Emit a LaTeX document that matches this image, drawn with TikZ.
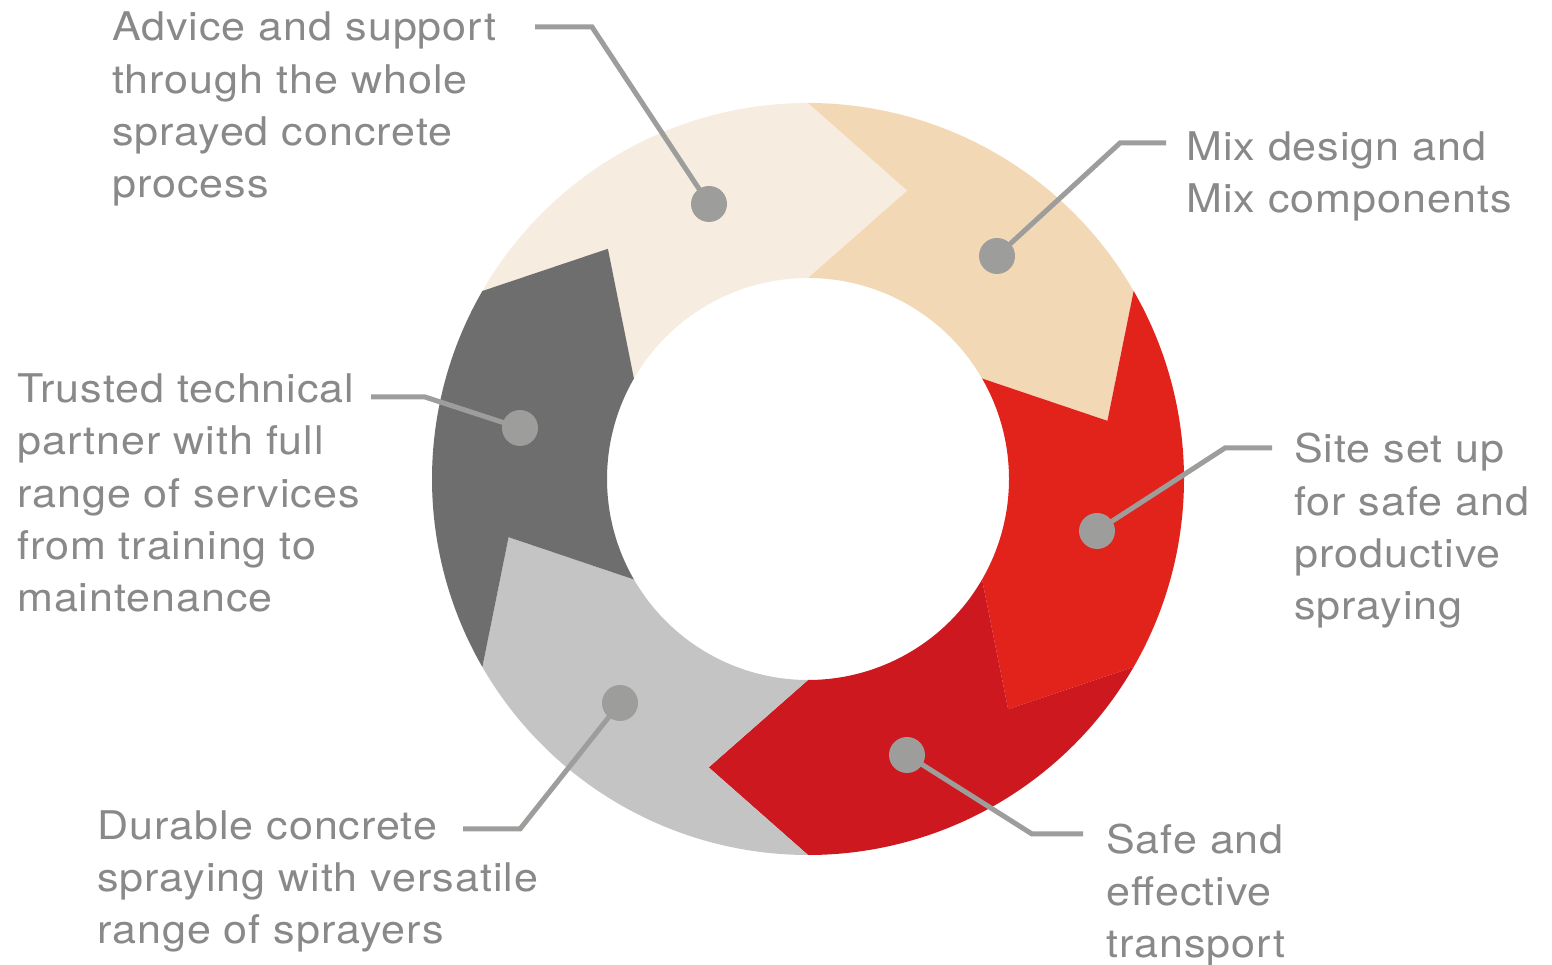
\documentclass[tikz,border=0pt]{standalone}
\usepackage{fontspec}
\setmainfont[FakeStretch=1.09,LetterSpace=2.5]{TeX Gyre Heros}
\definecolor{cream}{HTML}{F7ECE0}
\definecolor{peach}{HTML}{F3D8B6}
\definecolor{redA}{HTML}{E2231B}
\definecolor{redB}{HTML}{CD1820}
\definecolor{lgray}{HTML}{C4C4C4}
\definecolor{dgray}{HTML}{6E6E6E}
\definecolor{dotgray}{HTML}{9D9D9C}
\definecolor{labelgray}{HTML}{898989}
\begin{document}
\begin{tikzpicture}[x=1pt,y=1pt,
  lbl/.style={anchor=base west, inner sep=0pt, align=left, text=labelgray,
    font=\fontsize{39.5}{52.4}\selectfont},
  dot/.style={circle, fill=dotgray, minimum size=36pt, inner sep=0pt},
  conn/.style={draw=dotgray, line width=5pt}]
\useasboundingbox (0,0) rectangle (1552,965);
\fill[white] (0,0) rectangle (1552,965);
% donut segments with arrow tips
\foreach \a/\col [evaluate=\a as \b using \a-60,
                  evaluate=\a as \t using \a-79,
                  evaluate=\a as \n using \a-19] in
  {150/cream, 90/peach, 30/redA, -30/redB, -90/lgray, -150/dgray}{
  \fill[\col, shift={(808,486)}]
    (\a:376) arc[start angle=\a, end angle=\b, radius=376]
    -- (\t:305) -- (\b:201)
    arc[start angle=\b, end angle=\a, radius=201]
    -- (\n:305) -- cycle;
}
% labels (anchored at the baseline of their last line)
\node[lbl] (advice) at (112,767) {Advice and support\\through the whole\\sprayed concrete\\process};
\node[lbl] (mix) at (1186,752) {Mix design and\\Mix components};
\node[lbl] (site) at (1294,345) {Site set up\\for safe and\\productive\\spraying};
\node[lbl] (safe) at (1106,7) {Safe and\\effective\\transport};
\node[lbl] (durable) at (97,21) {Durable concrete\\spraying with versatile\\range of sprayers};
\node[lbl] (trusted) at (17,353) {Trusted technical\\partner with full\\range of services\\from training to\\maintenance};
% connector points
\coordinate (adviceS) at (535,938);  \coordinate (adviceB) at (592,938);
\coordinate (mixS) at (1166,822);    \coordinate (mixB) at (1120,822);
\coordinate (siteS) at (1272,517);   \coordinate (siteB) at (1225,517);
\coordinate (safeS) at (1083,131);   \coordinate (safeB) at (1032,131);
\coordinate (durableS) at (463,136); \coordinate (durableB) at (520,136);
\coordinate (trustedS) at (371,568); \coordinate (trustedB) at (425,568);
% dots
\node[dot] (adviceD) at (709,761) {};
\node[dot] (mixD) at (997,709) {};
\node[dot] (siteD) at (1097,434) {};
\node[dot] (safeD) at (907,210) {};
\node[dot] (durableD) at (620,262) {};
\node[dot] (trustedD) at (520,537) {};
% connectors
\foreach \k in {advice,mix,site,safe,durable,trusted}{
  \draw[conn] (\k S) -- (\k B) -- (\k D.center);
}
\end{tikzpicture}
\end{document}
